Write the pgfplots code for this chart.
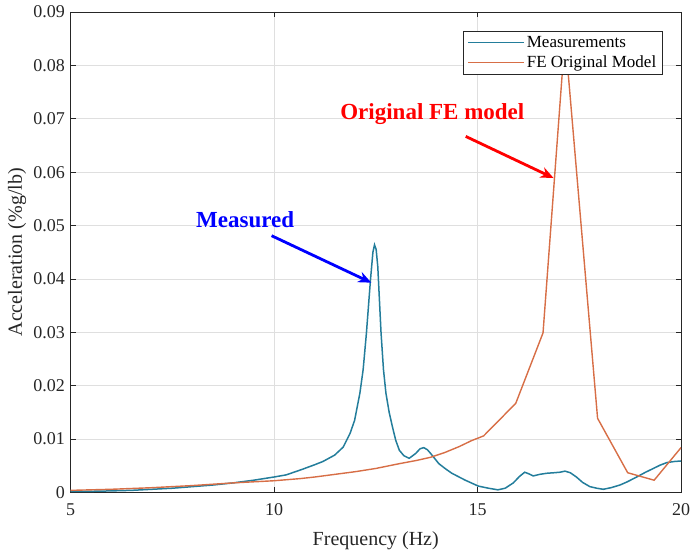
\documentclass[border=0pt]{standalone}
\usepackage{fontspec}
\setmainfont{Liberation Serif}
\usepackage{pgfplots}
\pgfplotsset{compat=1.18}
\usetikzlibrary{arrows.meta}
\definecolor{measblue}{RGB}{35,125,155}
\definecolor{feorange}{RGB}{215,110,70}
\definecolor{axgray}{RGB}{38,38,38}
\begin{document}
\begin{tikzpicture}
\begin{axis}[
 scale only axis, width=610.5pt, height=480.5pt,
 xmin=5, xmax=20, ymin=0, ymax=0.09,
 xtick={5,10,15,20}, ytick={0,0.01,0.02,0.03,0.04,0.05,0.06,0.07,0.08,0.09},
 scaled y ticks=false,
 yticklabel style={/pgf/number format/fixed, /pgf/number format/precision=2, xshift=-2pt},
 xticklabel style={yshift=-8pt},
 /pgf/number format/assume math mode=true,
 tick label style={font=\fontsize{18}{21}\selectfont, text=axgray},
 label style={font=\fontsize{20}{24}\selectfont, text=axgray},
 xlabel={Frequency (Hz)}, ylabel={Acceleration (\%g/lb)},
 xlabel style={at={(axis description cs:0.5,-0.1)}, anchor=center},
 ylabel style={at={(axis description cs:-0.0876,0.5)}, anchor=center},
 grid=major, major grid style={gray!25, line width=0.6pt},
 tick align=inside, major tick length=5pt,
 axis line style={axgray, line width=0.9pt},
 every tick/.style={axgray, line width=0.7pt},
 legend style={at={(0.970,0.961)}, anchor=north east, font=\fontsize{17}{20}\selectfont, draw=axgray, line width=0.9pt, inner xsep=4pt, inner ysep=3pt, row sep=3pt, cells={anchor=west}},
 legend image code/.code={\draw[#1, line width=1.3pt] (0pt,0pt) -- (56pt,0pt);},
]
\addplot[measblue, line width=1.5pt] coordinates {
(5.0,0.0002) (5.5,0.00022) (6.0,0.0003) (6.5,0.0004) (7.0,0.0006) (7.5,0.0008)
(8.0,0.0011) (8.5,0.0014) (9.0,0.0018) (9.5,0.0023) (10.0,0.0029) (10.3,0.0033)
(10.68,0.0043) (11.0,0.0052) (11.2,0.0058) (11.49,0.0070) (11.7,0.0085) (11.87,0.0111)
(11.98,0.0135) (12.11,0.0186) (12.19,0.0230) (12.27,0.0298) (12.37,0.0398) (12.43,0.0450)
(12.47,0.0464) (12.51,0.0455) (12.55,0.0423) (12.63,0.0299) (12.69,0.0230) (12.75,0.0186)
(12.83,0.0150) (12.91,0.0123) (12.99,0.0098) (13.08,0.0079) (13.19,0.0069) (13.32,0.0064)
(13.48,0.0073) (13.59,0.0082) (13.68,0.0084) (13.77,0.0080) (13.85,0.0073) (14.05,0.0054)
(14.22,0.0044) (14.37,0.0036) (14.70,0.0023) (15.02,0.0012) (15.27,0.0008) (15.5,0.0005)
(15.68,0.0008) (15.88,0.0018) (16.03,0.0030) (16.16,0.0038) (16.26,0.0035) (16.37,0.0031)
(16.53,0.0034) (16.7,0.0036) (16.88,0.0037) (17.03,0.0038) (17.15,0.0040) (17.28,0.0037)
(17.43,0.0029) (17.58,0.0019) (17.76,0.0011) (17.93,0.0008) (18.09,0.0006) (18.28,0.0009)
(18.5,0.0014) (18.68,0.0020) (18.91,0.0029) (19.13,0.0038) (19.32,0.0045) (19.48,0.0051)
(19.65,0.0056) (19.83,0.0058) (20.0,0.0059)
};
\addlegendentry{Measurements}
\addplot[feorange, line width=1.4pt] coordinates {
(5.0,0.0004) (6.0,0.0006) (7.0,0.0009) (8.0,0.0013) (9.0,0.0018) (10.0,0.0022)
(10.64,0.0026) (11.0,0.0029) (11.5,0.0034) (12.0,0.0039) (12.5,0.0045) (13.08,0.0054)
(13.5,0.0060) (13.85,0.0066) (14.2,0.0075) (14.55,0.0086) (14.85,0.0097) (15.15,0.0106)
(15.94,0.0167) (16.61,0.0299) (17.15,0.0855) (17.95,0.0139) (18.69,0.0037) (19.34,0.0023)
(20.0,0.0084)
};
\addlegendentry{FE Original Model}
\node[font=\fontsize{23}{26}\selectfont\bfseries, text=red] at (axis cs:13.89,0.0708) {Original FE model};
\draw[red, line width=2.8pt, -{Stealth[length=13pt, width=11pt]}] (axis cs:14.71,0.0667) -- (axis cs:16.87,0.0589);
\node[font=\fontsize{23}{26}\selectfont\bfseries, text=blue] at (axis cs:9.29,0.0511) {Measured};
\draw[blue, line width=2.8pt, -{Stealth[length=13pt, width=11pt]}] (axis cs:9.94,0.0481) -- (axis cs:12.39,0.0393);
\end{axis}
\pgfresetboundingbox
\path[use as bounding box] ([xshift=-70.5pt,yshift=-61.5pt]current axis.south west) rectangle ([xshift=11pt,yshift=12pt]current axis.north east);
\end{tikzpicture}
\end{document}
